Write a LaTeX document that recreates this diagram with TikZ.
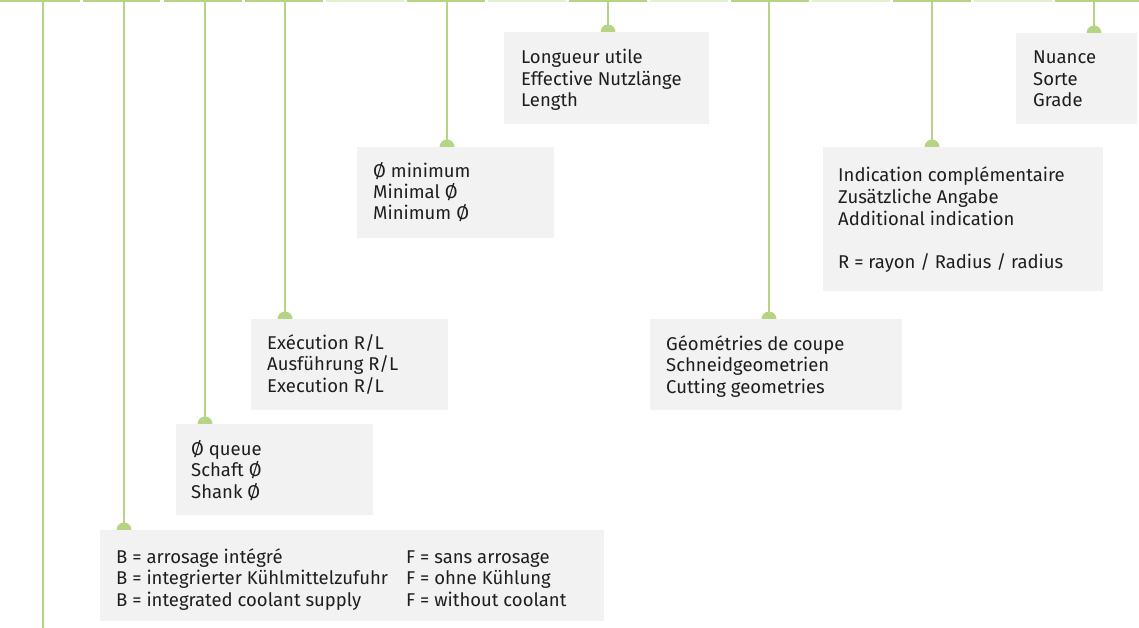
\documentclass[tikz,border=0pt]{standalone}
\usepackage{fontspec}
\setmainfont{Fira Sans}
\usetikzlibrary{calc}
\definecolor{grn}{RGB}{181,213,132}
\definecolor{grnlt}{RGB}{226,240,207}
\definecolor{boxgray}{RGB}{242,242,242}
\definecolor{txtc}{RGB}{30,30,30}
\begin{document}
\begin{tikzpicture}[x=1pt,y=-1pt,
  infobox/.style={fill=boxgray, draw=none, anchor=north west, inner sep=0pt},
  txt/.style={anchor=base west, align=left, inner sep=0pt, text=txtc,
    font=\fontsize{18.5}{21.5}\selectfont},
  lead/.style={draw=grn, line width=2.5pt},
  dot/.style={fill=grn}]
\useasboundingbox (0,0) rectangle (1139,628);
% top bar
\foreach \a/\b in {0/80,83/160,164/242,245/323,407/485,569/647,731/809,893/971,1055/1139}
  \fill[grn] (\a,0) rectangle (\b,1.6);
\foreach \a/\b in {326/404,488/566,650/728,812/890,974/1052}
  \fill[grnlt] (\a,0) rectangle (\b,1.6);
% top coordinates
\coordinate (t0) at (43,0);
\coordinate (t1) at (124,0);
\coordinate (t2) at (205,0);
\coordinate (t3) at (285,0);
\coordinate (t4) at (447,0);
\coordinate (t5) at (608,0);
\coordinate (t6) at (769,0);
\coordinate (t7) at (932,0);
\coordinate (t8) at (1094,0);
\coordinate (bot) at (43,628);
% boxes (positions)
\path
  (100,530) node[infobox, minimum width=504pt, minimum height=91pt] (b8) {}
  (176,424) node[infobox, minimum width=197pt, minimum height=91pt] (b7) {}
  (251,319) node[infobox, minimum width=197pt, minimum height=91pt] (b5) {}
  (357,147) node[infobox, minimum width=197pt, minimum height=91pt] (b3) {}
  (504,32)  node[infobox, minimum width=205pt, minimum height=92pt] (b1) {}
  (650,319) node[infobox, minimum width=252pt, minimum height=91pt] (b6) {}
  (823,147) node[infobox, minimum width=280pt, minimum height=144pt] (b4) {}
  (1016,33) node[infobox, minimum width=121pt, minimum height=91pt] (b2) {};
% leaders and dots
\draw[lead] (t0) -- (bot);
\foreach \t/\b in {t1/b8,t2/b7,t3/b5,t4/b3,t5/b1,t6/b6,t7/b4,t8/b2}{
  \draw[lead] (\t) -- (\t |- \b.north);
  \fill[dot] (\t |- \b.north) circle (7.5);
}
% redraw boxes over dots
\foreach \b in {b1,b2,b3,b4,b5,b6,b7,b8}
  \fill[boxgray] (\b.north west) rectangle (\b.south east);
% texts (anchor = baseline of last line)
\node[txt] (x1) at ($(b1.north west)+(17,75)$) {Longueur utile\\Effective Nutzlänge\\Length};
\node[txt] (x2) at ($(b2.north west)+(17,74)$) {Nuance\\Sorte\\Grade};
\node[txt] (x3) at ($(b3.north west)+(16,73)$) {Ø minimum\\Minimal Ø\\Minimum Ø};
\node[txt] (x4) at ($(b4.north west)+(15,121)$) {Indication complémentaire\\Zusätzliche Angabe\\Additional indication\\[21.5pt]R = rayon / Radius / radius};
\node[txt] (x5) at ($(b5.north west)+(16,73)$) {Exécution R/L\\Ausführung R/L\\Execution R/L};
\node[txt] (x6) at ($(b6.north west)+(16,74)$) {Géométries de coupe\\Schneidgeometrien\\Cutting geometries};
\node[txt] (x7) at ($(b7.north west)+(15,74)$) {Ø queue\\Schaft Ø\\Shank Ø};
\node[txt] (x8a) at ($(b8.north west)+(16,76)$) {B = arrosage intégré\\B = integrierter Kühlmittelzufuhr\\B = integrated coolant supply};
\node[txt] (x8b) at ($(b8.north west)+(306,76)$) {F = sans arrosage\\F = ohne Kühlung\\F = without coolant};
\end{tikzpicture}
\end{document}
